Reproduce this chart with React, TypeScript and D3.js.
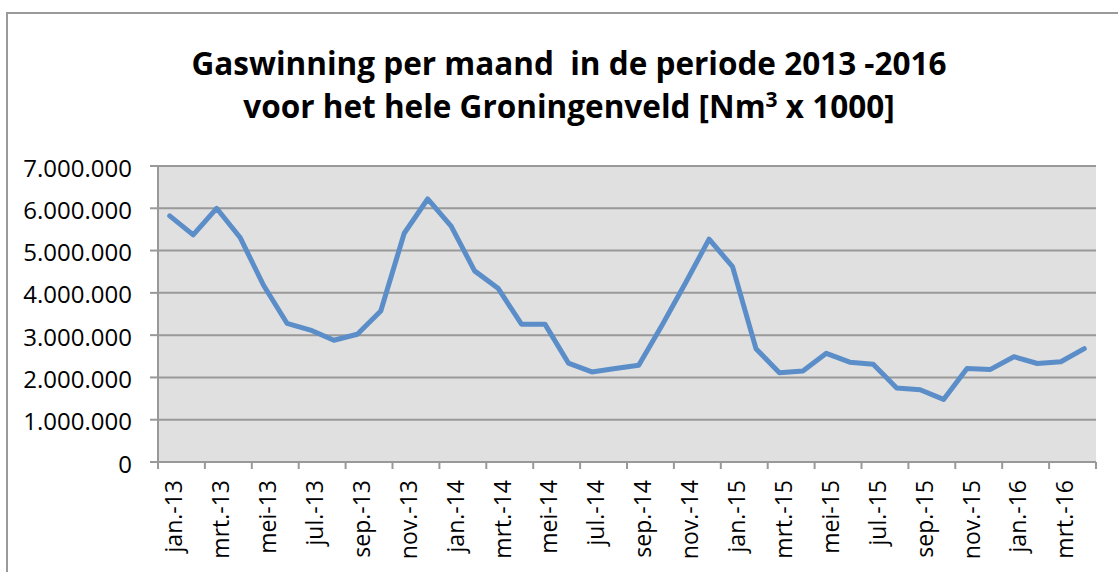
import React from "react";
import * as d3 from "d3";

const categories: string[] = [
  "jan.-13","feb.-13","mrt.-13","apr.-13","mei-13","jun.-13","jul.-13","aug.-13","sep.-13","okt.-13","nov.-13","dec.-13",
  "jan.-14","feb.-14","mrt.-14","apr.-14","mei-14","jun.-14","jul.-14","aug.-14","sep.-14","okt.-14","nov.-14","dec.-14",
  "jan.-15","feb.-15","mrt.-15","apr.-15","mei-15","jun.-15","jul.-15","aug.-15","sep.-15","okt.-15","nov.-15","dec.-15",
  "jan.-16","feb.-16","mrt.-16","apr.-16",
];

const values: number[] = [
  5820000, 5370000, 6000000, 5310000, 4180000, 3280000, 3120000, 2880000, 3020000, 3570000,
  5410000, 6220000, 5580000, 4520000, 4110000, 3260000, 3260000, 2340000, 2130000, 2210000,
  2290000, 3240000, 4240000, 5270000, 4620000, 2680000, 2110000, 2150000, 2570000, 2360000,
  2310000, 1750000, 1710000, 1480000, 2210000, 2190000, 2490000, 2330000, 2370000, 2680000,
];

const yTicks: number[] = [0, 1000000, 2000000, 3000000, 4000000, 5000000, 6000000, 7000000];

const titleLine1 = "Gaswinning per maand \u00A0in de periode 2013 -2016";
const titleLine2a = "voor het hele Groningenveld [Nm";
const titleSup = "3";
const titleLine2b = "\u00A0x 1000]";

const nl = d3.formatLocale({ decimal: ",", thousands: ".", grouping: [3], currency: ["€", ""] });
const fmt = nl.format(",");

export default function App() {
  const W = 1118, H = 572;
  const left = 158, right = 1096, top = 166, bottom = 462;
  const x = d3.scaleBand<string>().domain(categories).range([left, right]).padding(0);
  const y = d3.scaleLinear().domain([0, 7000000]).range([bottom, top]);
  const cx = (c: string) => (x(c) as number) + x.bandwidth() / 2;
  const line = d3.line<number>().x((_, i) => cx(categories[i])).y((v) => y(v));
  const tickIdx = d3.range(0, categories.length + 1, 2);
  const font = "'Open Sans', 'Liberation Sans', sans-serif";
  return (
    <svg width={W} height={H} style={{ position: "absolute", left: 0, top: 0, background: "#fff" }}>
      <rect x={7} y={13} width={1200} height={700} fill="#fff" stroke="#9a9a9a" strokeWidth={2} />
      <g fontFamily={font} fontWeight="bold" fill="#000" textAnchor="middle">
        <text x={569} y={75} fontSize={31.5}>{titleLine1}</text>
        <text x={569} y={118} fontSize={31.5}>
          <tspan>{titleLine2a}</tspan>
          <tspan fontSize={21} dy={-11}>{titleSup}</tspan>
          <tspan dy={11}>{titleLine2b}</tspan>
        </text>
      </g>
      <rect x={left} y={top} width={right - left} height={bottom - top} fill="#e0e0e0" />
      {yTicks.map((t) => (
        <g key={t}>
          <line x1={left} x2={right} y1={y(t)} y2={y(t)} stroke="#999" strokeWidth={2} />
          <line x1={150} x2={left} y1={y(t)} y2={y(t)} stroke="#999" strokeWidth={2} />
          <text x={132} y={y(t)} dy={10.5} textAnchor="end" fontFamily={font} fontSize={24} fill="#000">{fmt(t)}</text>
        </g>
      ))}
      <line x1={left} x2={left} y1={top} y2={bottom} stroke="#999" strokeWidth={2} />
      {tickIdx.map((k) => {
        const xx = k < categories.length ? (x(categories[k]) as number) : right;
        return <line key={k} x1={xx} x2={xx} y1={bottom} y2={bottom + 7} stroke="#999" strokeWidth={2} />;
      })}
      {categories.map((c, i) =>
        i % 2 === 0 ? (
          <text key={c} transform={`translate(${cx(c) + 12.5},480) rotate(-90)`} textAnchor="end" fontFamily={font} fontSize={23} fill="#000">{c}</text>
        ) : null
      )}
      <path d={line(values) || ""} fill="none" stroke="#5b8ec8" strokeWidth={5} strokeLinejoin="round" strokeLinecap="round" />
    </svg>
  );
}
